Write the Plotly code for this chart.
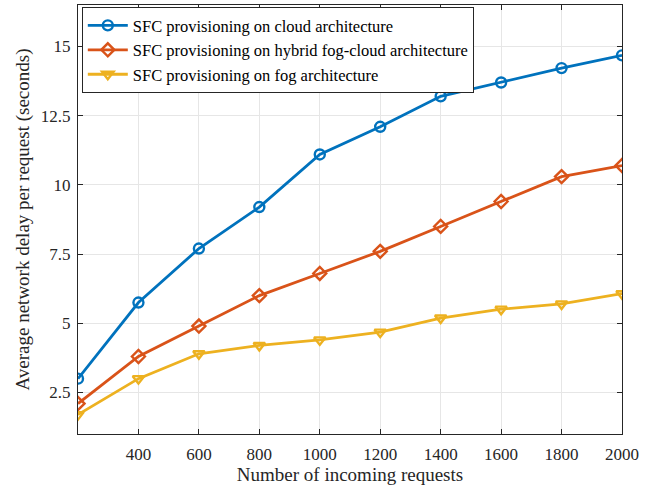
import plotly.graph_objects as go

requests = [200, 400, 600, 800, 1000, 1200, 1400, 1600, 1800, 2000]
cloud = [3.0, 5.75, 7.7, 9.2, 11.1, 12.1, 13.2, 13.7, 14.22, 14.68]
hybrid = [2.1, 3.8, 4.9, 6.0, 6.8, 7.6, 8.5, 9.4, 10.3, 10.7]
fog = [1.7, 3.0, 3.9, 4.2, 4.4, 4.68, 5.19, 5.51, 5.7, 6.07]

names = ["SFC provisioning on cloud architecture",
         "SFC provisioning on hybrid fog-cloud architecture",
         "SFC provisioning on fog architecture"]
colors = ["#0072BD", "#D95319", "#EDB120"]
symbols = ["circle-open", "diamond-open", "triangle-down-open"]
x_ticks = [400, 600, 800, 1000, 1200, 1400, 1600, 1800, 2000]
y_ticks = [2.5, 5, 7.5, 10, 12.5, 15]
y_ticklabels = ["2.5", "5", "7.5", "10", "12.5", "15"]

fig = go.Figure()
for series, name, c, s in zip([cloud, hybrid, fog], names, colors, symbols):
    fig.add_trace(go.Scatter(
        x=requests, y=series, name=name, mode="lines+markers",
        line=dict(color=c, width=2.8),
        marker=dict(symbol=s, size=10, color=c, line=dict(color=c, width=2.4)),
    ))

font = "Liberation Serif, Times New Roman, serif"
fig.update_layout(
    width=656, height=492,
    margin=dict(l=78, r=34, t=5, b=58),
    paper_bgcolor="white", plot_bgcolor="white",
    font=dict(family=font, color="#262626", size=17),
    legend=dict(x=0.007, y=0.995, xanchor="left", yanchor="top",
                bgcolor="white", bordercolor="#262626", borderwidth=1,
                font=dict(family=font, size=16.5, color="#000000"),
                tracegroupgap=0, itemwidth=40),
    showlegend=True,
)
fig.update_xaxes(
    range=[200, 2000], tickvals=x_ticks, ticks="inside", ticklen=5,
    tickcolor="#262626", showline=True, linecolor="#262626", linewidth=1,
    mirror="ticks", showgrid=True, gridcolor="#e6e6e6", zeroline=False,
    tickfont=dict(size=17), ticklabelstandoff=5,
    title=dict(text="Number of incoming requests", font=dict(size=19), standoff=2),
)
fig.update_yaxes(
    range=[1, 16.5], tickvals=y_ticks, ticktext=y_ticklabels, ticks="inside",
    ticklen=5, tickcolor="#262626", showline=True, linecolor="#262626",
    linewidth=1, mirror="ticks", showgrid=True, gridcolor="#e6e6e6",
    zeroline=False, tickfont=dict(size=17), ticklabelstandoff=3,
    title=dict(text="Average network delay per request (seconds)",
               font=dict(size=19), standoff=6),
)
fig.write_html("out.html")
